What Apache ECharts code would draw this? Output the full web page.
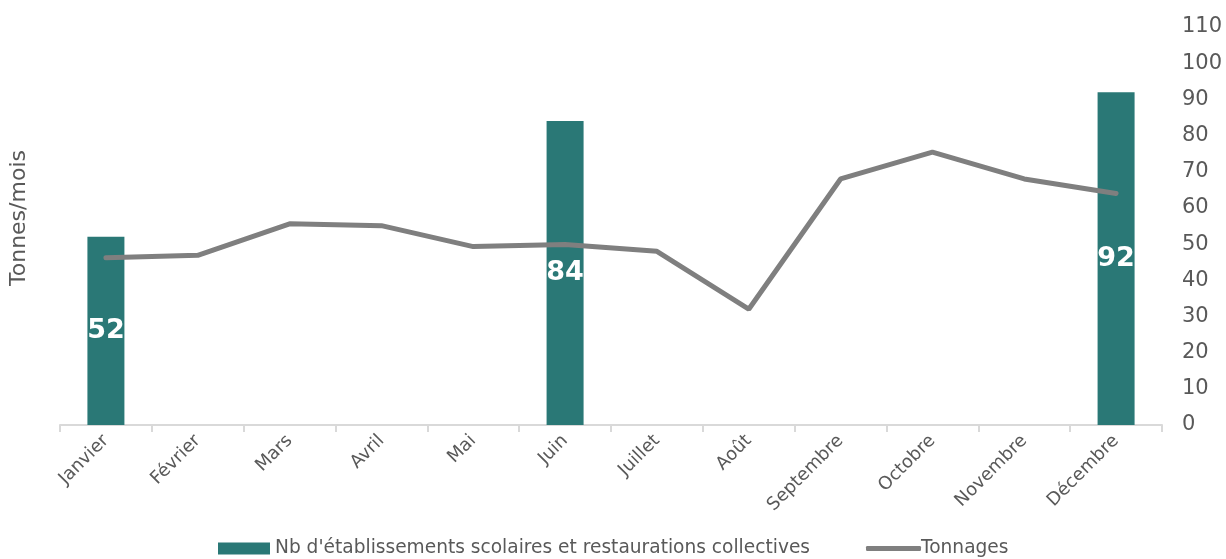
<!DOCTYPE html>
<html>
<head>
<meta charset="utf-8">
<script src="https://cdn.jsdelivr.net/npm/echarts@6/dist/echarts.min.js"></script>
<style>html,body{margin:0;padding:0;background:#fff;}#c{width:1226px;height:559px;}</style>
</head>
<body>
<div id="c"></div>
<script>
const categories = ['Janvier','Février','Mars','Avril','Mai','Juin','Juillet','Août','Septembre','Octobre','Novembre','Décembre'];
const etablissements = [52,'-','-','-','-',84,'-','-','-','-','-',92];
const tonnages = [46.2,46.9,55.6,55.1,49.3,49.9,48.0,32.0,68.0,75.4,68.0,64.0];
const yTicks = {min:0, max:110, interval:10};
const barName = "Nb d'établissements scolaires et restaurations collectives";
const lineName = 'Tonnages';

const chart = echarts.init(document.getElementById('c'));
const font = 'DejaVu Sans';
chart.setOption({
  animation:false,
  textStyle:{fontFamily:font},
  grid:{left:57,right:64,top:27,bottom:134},
  legend:[
    {left:213,top:534,itemWidth:52,itemHeight:12,itemGap:0,
     textStyle:{fontSize:18.6,color:'#595959',fontFamily:font},
     data:[{name:barName,icon:'rect'}]},
    {left:861,top:534,itemWidth:55,itemHeight:5,itemGap:0,
     textStyle:{fontSize:18.6,color:'#595959',fontFamily:font,padding:[0,0,0,-5]},
     data:[{name:lineName,icon:'roundRect'}]}
  ],
  xAxis:{
    type:'category',data:categories,boundaryGap:true,
    axisLine:{lineStyle:{color:'#d9d9d9',width:2}},
    axisTick:{show:true,length:7,lineStyle:{color:'#d9d9d9',width:2}},
    axisLabel:{rotate:45,fontSize:18,color:'#595959',margin:13,interval:0,hideOverlap:false}
  },
  yAxis:[
    {type:'value',position:'right',min:yTicks.min,max:yTicks.max,interval:yTicks.interval,
     axisLine:{show:false},axisTick:{show:false},splitLine:{show:false},
     axisLabel:{fontSize:21,color:'#595959',margin:20}},
    {type:'value',position:'left',min:yTicks.min,max:yTicks.max,interval:yTicks.interval,
     axisLine:{show:false},axisTick:{show:false},splitLine:{show:false},axisLabel:{show:false},
     name:'Tonnes/mois',nameLocation:'middle',nameGap:30,nameRotate:90,
     nameTextStyle:{fontSize:22,color:'#595959',padding:[0,0,0,16]}}
  ],
  series:[
    {name:barName,type:'bar',yAxisIndex:0,
     data:etablissements,barWidth:37,barGap:'-100%',
     itemStyle:{color:'#2a7876'},
     label:{show:true,position:'inside',color:'#fff',fontWeight:'bold',fontSize:27,fontFamily:font}},
    {name:lineName,type:'line',yAxisIndex:0,data:tonnages,showSymbol:false,symbol:'none',
     lineStyle:{color:'#7f7f7f',width:5,cap:'round'},itemStyle:{color:'#7f7f7f'}}
  ]
});
</script>
</body>
</html>
